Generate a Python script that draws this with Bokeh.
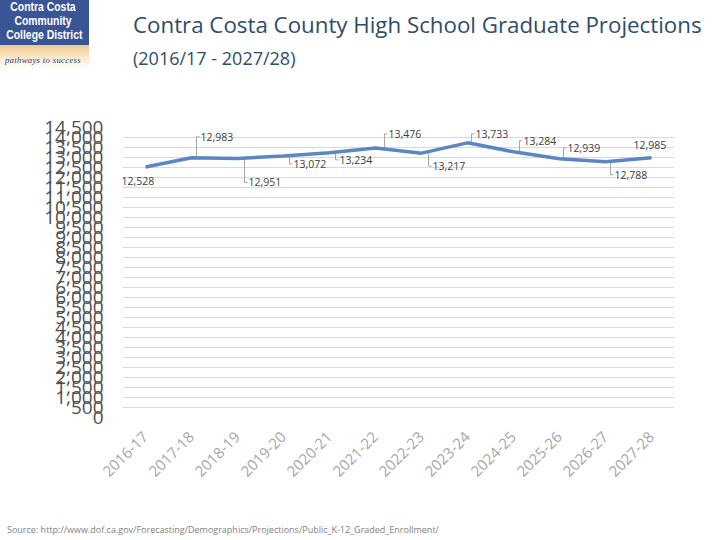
import math
from bokeh.plotting import figure
from bokeh.models import (Range1d, FixedTicker, NumeralTickFormatter,
                          ColumnDataSource, Div)
from bokeh.layouts import column
from bokeh.embed import file_html
from bokeh.resources import INLINE
from bokeh.core.properties import value

# ---- data ----
years = ["2016-17", "2017-18", "2018-19", "2019-20", "2020-21", "2021-22",
         "2022-23", "2023-24", "2024-25", "2025-26", "2026-27", "2027-28"]
graduates = [12528, 12983, 12951, 13072, 13234, 13476,
             13217, 13733, 13284, 12939, 12788, 12985]
y_ticks = list(range(0, 14501, 500))
title = "Contra Costa County High School Graduate Projections"
subtitle = "(2016/17 - 2027/28)"
source_note = "Source: http://www.dof.ca.gov/Forecasting/Demographics/Projections/Public_K-12_Graded_Enrollment/"
logo_lines = ["Contra Costa", "Community", "College District"]
logo_tag = "pathways to success"

# label placement (pixel offsets from each point: right, down)
lab_dx = [-24, 9, 11, 10, 10, 13, 11, 8, 10, 8, 9, -18]
lab_dy = [14, -21, 24, 8, 7, -14, 13, -9, -11, -11, 13, -13]
leader = [False, True, True, True, True, True, True, True, True, True, True, False]

W = 704
HEAD_H = 72
FIG_H = 420
FL, FR, FT, FB = 122, 30, 45, 85
frame_w = W - FL - FR
frame_h = FIG_H - FT - FB
ymax = 14500
n = len(years)

logo_html = "".join(
    f'<div style="white-space:nowrap;transform:scaleX(0.8);transform-origin:center;height:14px;">{t}</div>'
    for t in logo_lines)

header = Div(width=W, height=HEAD_H, text=f"""
<div style="position:relative;width:{W}px;height:{HEAD_H}px;">
  <div style="position:absolute;left:-8px;top:-8px;width:92px;height:48px;background:#3A5596;
       color:white;font-family:'Liberation Sans';font-weight:bold;
       font-size:13px;line-height:14px;text-align:center;padding-top:3px;box-sizing:border-box;">
       {logo_html}</div>
  <div style="position:absolute;left:-8px;top:40px;width:92px;height:26px;
       background:linear-gradient(#EFC88A,#F8E6C6 45%,#FDF7EE 75%,#FFFFFF);color:#2E3F73;
       font-family:'Liberation Serif';font-style:italic;font-size:8.5px;line-height:12px;
       text-align:center;padding-top:9px;box-sizing:border-box;letter-spacing:0.4px;
       white-space:nowrap;">{logo_tag}</div>
  <div style="position:absolute;left:128px;top:7px;white-space:nowrap;font-family:'Open Sans';
       font-size:22.3px;line-height:26px;color:#2E4D6B;">{title}</div>
  <div style="position:absolute;left:128px;top:42px;white-space:nowrap;font-family:'Open Sans';
       font-size:18px;line-height:22px;color:#2E4D6B;">{subtitle}</div>
</div>""")

p = figure(width=W, height=FIG_H, output_backend="svg", toolbar_location=None,
           x_range=Range1d(0, n), y_range=Range1d(0, ymax),
           min_border_left=FL, min_border_right=FR,
           min_border_top=FT, min_border_bottom=FB)
p.outline_line_color = None
p.background_fill_color = "white"
p.border_fill_color = "white"

xs = [i + 0.5 for i in range(n)]
upx_x = n / frame_w      # data units per pixel
upx_y = ymax / frame_h

# axes
p.xaxis.ticker = FixedTicker(ticks=xs)
p.xaxis.major_label_overrides = {x: y for x, y in zip(xs, years)}
p.xaxis.major_label_orientation = math.pi / 4
p.xaxis.axis_line_color = None
p.xaxis.major_tick_line_color = None
p.xaxis.minor_tick_line_color = None
p.xaxis.major_label_text_color = "#A6A6A6"
p.xaxis.major_label_text_font = "Open Sans"
p.xaxis.major_label_text_font_size = "15px"
p.xaxis.major_label_standoff = 11

p.yaxis.ticker = FixedTicker(ticks=y_ticks)
p.yaxis.formatter = NumeralTickFormatter(format="0,0")
p.yaxis.axis_line_color = None
p.yaxis.major_tick_line_color = None
p.yaxis.minor_tick_line_color = None
p.yaxis.major_label_text_color = "#505050"
p.yaxis.major_label_text_font = "Open Sans"
p.yaxis.major_label_text_font_size = "19px"
p.yaxis.major_label_standoff = 13

p.xgrid.grid_line_color = None
p.ygrid.grid_line_color = "#D9D9D9"
p.ygrid.grid_line_width = 1

# leader lines
lx, ly = [], []
for i in range(n):
    if not leader[i]:
        continue
    px, py = xs[i], graduates[i]
    vx = px + (lab_dx[i] - 4) * upx_x
    ty = py - lab_dy[i] * upx_y
    lx.append([vx, vx, px + (lab_dx[i] - 1) * upx_x])
    ly.append([py, ty, ty])
p.multi_line(lx, ly, line_color="#A6A6A6", line_width=1)

# main line
p.line(xs, graduates, line_color="#5A86C3", line_width=3.5)

# data labels
src = ColumnDataSource(dict(
    x=xs, y=graduates, t=[f"{v:,}" for v in graduates],
    dx=lab_dx, dy=lab_dy))
p.text("x", "y", text="t", source=src, x_offset="dx", y_offset="dy",
       text_font=value("Open Sans"), text_font_size="10.5px",
       text_color="#404040", text_align="left", text_baseline="middle")

footer = Div(width=W, height=32, text=f"""
<div style="padding-left:2px;padding-top:17px;white-space:nowrap;font-family:'Open Sans';
     font-size:9px;line-height:12px;color:#7F7F7F;">{source_note}</div>""")

layout = column(header, p, footer, spacing=0)
open("out.html", "w").write(file_html(layout, INLINE))
